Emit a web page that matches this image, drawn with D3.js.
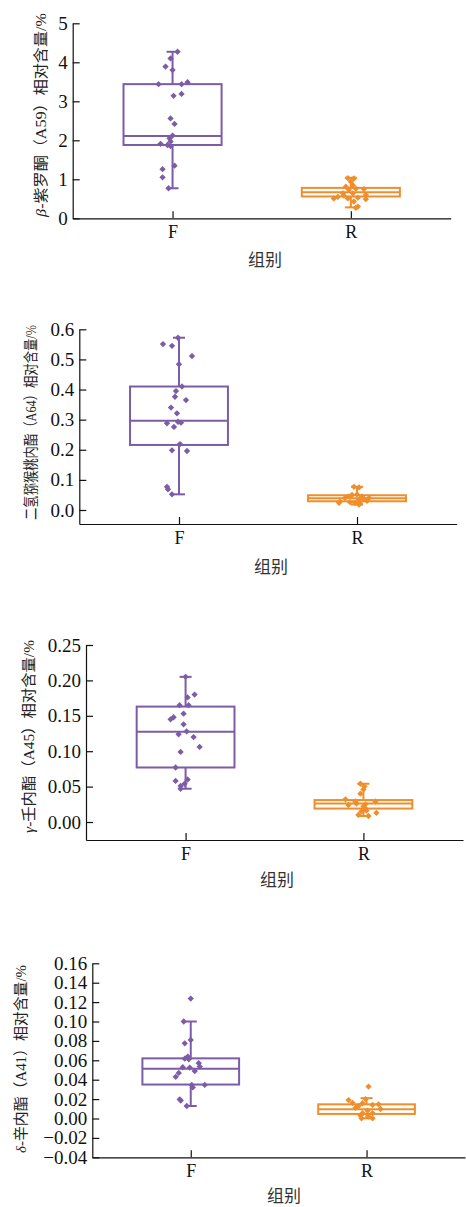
<!DOCTYPE html>
<html>
<head>
<meta charset="utf-8">
<script src="https://cdn.jsdelivr.net/npm/d3@7"></script>
<style>
  body { margin: 0; background: #fff; }
</style>
</head>
<body>
<script>
// groups on the x axis
var groups = ["F", "R"];

// beta-ionone (A59)
var a59Domain = [0, 5];
var a59Ticks = [0, 1, 2, 3, 4, 5];
var a59F = [4.27, 4.10, 3.89, 3.80, 3.44, 3.44, 3.49, 3.14, 3.19, 2.56, 2.42, 2.12, 2.05, 1.97, 1.91, 1.88, 1.85, 1.35, 1.26, 1.05, 0.77];
var a59FJit = [0.25, -0.1, -0.35, 0, -0.7, 0.45, 0.75, 0.05, 0.45, -0.1, 0.1, 0, -0.15, -0.1, -0.6, -0.25, -0.1, 0.1, -0.5, -0.5, -0.2];
var a59R = [1.03, 1.02, 0.94, 0.81, 0.85, 0.73, 0.76, 0.75, 0.64, 0.64, 0.55, 0.60, 0.51, 0.51, 0.53, 0.58, 0.43, 0.49, 0.30, 0.27];
var a59RJit = [-0.15, 0.15, 0, -0.25, 0.1, -0.1, 0.25, 0.65, -0.4, 0.1, -0.65, 0.75, -0.85, -0.15, 0.35, -0.35, 0.15, 0.75, 0.35, 0.25];
// [lower whisker, q1, median, q3, upper whisker]
var a59BoxF = [0.77, 1.88, 2.11, 3.44, 4.27];
var a59BoxR = [0.28, 0.56, 0.67, 0.78, 1.04];

// dihydroactinidiolide (A64)
var a64Domain = [-0.0465, 0.6];
var a64Ticks = [0, 0.1, 0.2, 0.3, 0.4, 0.5, 0.6];
var a64F = [0.572, 0.551, 0.545, 0.511, 0.484, 0.41, 0.395, 0.376, 0.365, 0.34, 0.321, 0.288, 0.293, 0.29, 0.276, 0.219, 0.198, 0.196, 0.077, 0.069, 0.052];
var a64FJit = [-0.05, -0.8, -0.35, 0.65, 0, 0.15, -0.15, -0.2, 0.35, -0.4, -0.1, -0.6, -0.05, 0.1, -0.25, 0.05, -0.35, 0.4, -0.6, -0.55, -0.35];
var a64R = [0.077, 0.075, 0.050, 0.052, 0.045, 0.045, 0.040, 0.040, 0.028, 0.024, 0.026, 0.024, 0.022, 0.035, 0.035, 0.018, 0.030];
var a64RJit = [-0.15, 0.1, -0.25, 0, -0.4, 0.25, -0.6, 0.6, -0.85, -0.9, -0.35, -0.1, 0.15, 0.35, 0.1, 0.1, 0.5];
var a64BoxF = [0.052, 0.216, 0.296, 0.41, 0.572];
var a64BoxR = [0.018, 0.029, 0.039, 0.049, 0.077];

// gamma-nonalactone (A45)
var a45Domain = [-0.0254, 0.25];
var a45Ticks = [0, 0.05, 0.10, 0.15, 0.20, 0.25];
var a45F = [0.205, 0.180, 0.176, 0.165, 0.165, 0.148, 0.145, 0.153, 0.138, 0.128, 0.124, 0.120, 0.106, 0.099, 0.077, 0.058, 0.060, 0.054, 0.051, 0.047];
var a45FJit = [0, 0.45, 0.1, -0.3, 0.15, -0.6, -0.75, -0.1, -0.1, 0.05, -0.35, 0.4, 0.7, -0.25, -0.5, -0.5, 0.1, -0.05, -0.25, -0.25];
var a45R = [0.054, 0.050, 0.046, 0.040, 0.032, 0.029, 0.029, 0.024, 0.026, 0.025, 0.022, 0.016, 0.013, 0.010, 0.0085, 0.019, 0.015];
var a45RJit = [-0.15, 0.05, 0, -0.15, -0.9, -0.4, 0.6, -0.75, -0.35, 0.1, 0, 0.15, 0.65, -0.25, 0.25, 0.1, -0.1];
var a45BoxF = [0.047, 0.077, 0.1275, 0.163, 0.205];
var a45BoxR = [0.0085, 0.019, 0.026, 0.031, 0.054];

// delta-octalactone (A41)
var a41Domain = [-0.04, 0.16];
var a41Ticks = [-0.04, -0.02, 0, 0.02, 0.04, 0.06, 0.08, 0.10, 0.12, 0.14, 0.16];
var a41F = [0.1236, 0.100, 0.081, 0.0775, 0.0638, 0.0617, 0.061, 0.057, 0.0535, 0.0528, 0.0525, 0.049, 0.047, 0.043, 0.0346, 0.0346, 0.032, 0.0198, 0.0185, 0.0129];
var a41FJit = [0, -0.35, 0, -0.3, -0.15, -0.3, -0.1, 0.4, 0.45, -0.4, -0.05, 0.2, -0.6, -0.75, 0.05, 0.7, 0.1, -0.55, -0.5, -0.2];
var a41R = [0.0329, 0.019, 0.020, 0.016, 0.0157, 0.0146, 0.013, 0.014, 0.011, 0.0098, 0.0081, 0.0054, 0.0054, 0.003, 0.002, 0.0002, 0.0002];
var a41RJit = [0.1, -0.9, -0.05, -0.7, -0.2, 0.6, -0.4, 0.3, -0.55, 0.7, 0.05, -0.2, 0.3, -0.3, 0.1, 0.3, -0.25];
var a41BoxF = [0.0129, 0.035, 0.0514, 0.062, 0.100];
var a41BoxR = [0.0002, 0.0047, 0.0095, 0.0146, 0.021];

var yTitles = [
  ["β", "-紫罗酮（A59）相对含量/%"],
  ["", "二氢猕猴桃内酯（A64）相对含量/%"],
  ["γ", "-壬内酯（A45）相对含量/%"],
  ["δ", "-辛内酯（A41）相对含量/%"]
];
var xTitle = "组别";

// colours for F and R
var colors = { "F": "#7d5ca7", "R": "#ef8e2c" };

var serif = "Liberation Serif, Times New Roman, serif";
var cjk = "Liberation Serif, Noto Sans CJK SC, serif";

// panel list built from the arrays above
var panels = [
  { domain: a59Domain, ticks: a59Ticks, fmt: d3.format("d"),
    F: a59F, FJ: a59FJit, R: a59R, RJ: a59RJit, boxF: a59BoxF, boxR: a59BoxR, title: yTitles[0] },
  { domain: a64Domain, ticks: a64Ticks, fmt: d3.format(".1f"),
    F: a64F, FJ: a64FJit, R: a64R, RJ: a64RJit, boxF: a64BoxF, boxR: a64BoxR, title: yTitles[1] },
  { domain: a45Domain, ticks: a45Ticks, fmt: d3.format(".2f"),
    F: a45F, FJ: a45FJit, R: a45R, RJ: a45RJit, boxF: a45BoxF, boxR: a45BoxR, title: yTitles[2] },
  { domain: a41Domain, ticks: a41Ticks, fmt: d3.format(".2f"),
    F: a41F, FJ: a41FJit, R: a41R, RJ: a41RJit, boxF: a41BoxF, boxR: a41BoxR, title: yTitles[3] }
];

// pixel layout of every panel
var layout = [
  { left: 72.7, right: 450.7, top: 23.3, bottom: 218.3, tx: 40, ty: 115, tlen: 204, lx: 265, ly: 258 },
  { left: 79.3, right: 456.7, top: 329.3, bottom: 524, tx: 31, ty: 422.5, tlen: 195, lx: 271, ly: 565 },
  { left: 86, right: 463, top: 645, bottom: 840, tx: 28, ty: 736.5, tlen: 193, lx: 277, ly: 878 },
  { left: 92.3, right: 465, top: 963.3, bottom: 1157.3, tx: 21, ty: 1059, tlen: 188, lx: 284, ly: 1194 }
];

var svg = d3.select("body")
            .append("svg")
            .attr("width", 466)
            .attr("height", 1207);

var jitter = d3.scaleLinear().domain([-1, 1]).range([-20, 20]);
var marker = d3.symbol().type(d3.symbolSquare).size(20);

panels.forEach(function(P, i) {
  var L = layout[i];
  var g = svg.append("g");

  var x = d3.scalePoint()
            .domain(groups)
            .range([L.left, L.right])
            .padding(0.56);

  var y = d3.scaleLinear()
            .domain(P.domain)
            .range([L.bottom, L.top]);

  var boxW = x.step() * 0.55;
  var capW = 12;

  // boxes and whiskers
  groups.forEach(function(k) {
    var b = k === "F" ? P.boxF : P.boxR;
    var cx = x(k);
    var c = colors[k];
    var bg = g.append("g")
              .attr("stroke", c)
              .attr("stroke-width", 2)
              .attr("fill", "none");

    bg.append("line")
      .attr("x1", cx).attr("x2", cx)
      .attr("y1", y(b[4])).attr("y2", y(b[3]));
    bg.append("line")
      .attr("x1", cx).attr("x2", cx)
      .attr("y1", y(b[1])).attr("y2", y(b[0]));
    [b[0], b[4]].forEach(function(v) {
      bg.append("line")
        .attr("x1", cx - capW / 2).attr("x2", cx + capW / 2)
        .attr("y1", y(v)).attr("y2", y(v));
    });
    bg.append("rect")
      .attr("x", cx - boxW / 2)
      .attr("y", y(b[3]))
      .attr("width", boxW)
      .attr("height", y(b[1]) - y(b[3]));
    bg.append("line")
      .attr("x1", cx - boxW / 2).attr("x2", cx + boxW / 2)
      .attr("y1", y(b[2])).attr("y2", y(b[2]));

    // jittered points
    var vals = P[k], jit = P[k + "J"];
    g.append("g")
     .selectAll("path")
     .data(vals)
     .enter().append("path")
       .attr("d", marker)
       .attr("fill", c)
       .attr("transform", function(d, j) {
         return "translate(" + (cx + jitter(jit[j])) + "," + y(d) + ") rotate(45)";
       });
  });

  // y axis, ticks pointing inward
  var yAxis = g.append("g")
               .attr("transform", "translate(" + L.left + ",0)")
               .call(d3.axisLeft(y)
                       .tickValues(P.ticks)
                       .tickFormat(P.fmt)
                       .tickSize(-7)
                       .tickSizeOuter(0)
                       .tickPadding(5));
  yAxis.attr("font-family", serif).attr("font-size", 19);

  // x axis
  var xAxis = g.append("g")
               .attr("transform", "translate(0," + L.bottom + ")")
               .call(d3.axisBottom(x)
                       .tickSize(-7)
                       .tickSizeOuter(0)
                       .tickPadding(7));
  xAxis.attr("font-family", serif).attr("font-size", 18);

  g.selectAll(".domain, .tick line")
   .attr("stroke", "#111")
   .attr("stroke-width", 1.2);
  g.selectAll(".tick text").attr("fill", "#111");

  // y title, stretched along its length to match
  var t = g.append("text")
           .attr("text-anchor", "middle")
           .attr("dominant-baseline", "central")
           .attr("font-family", cjk)
           .attr("font-size", 15)
           .attr("fill", "#222");
  if (P.title[0]) {
    t.append("tspan").attr("font-style", "italic").text(P.title[0]);
  }
  t.append("tspan").text(P.title[1]);
  var len = t.node().getComputedTextLength();
  t.attr("transform", "translate(" + L.tx + "," + L.ty + ") rotate(-90) scale(" + (L.tlen / len) + ",1)");

  // x title
  g.append("text")
   .attr("x", L.lx)
   .attr("y", L.ly)
   .attr("text-anchor", "middle")
   .attr("dominant-baseline", "central")
   .attr("font-family", "Noto Sans CJK SC, sans-serif")
   .attr("font-size", 17)
   .attr("fill", "#333")
   .text(xTitle);
});
</script>
</body>
</html>
